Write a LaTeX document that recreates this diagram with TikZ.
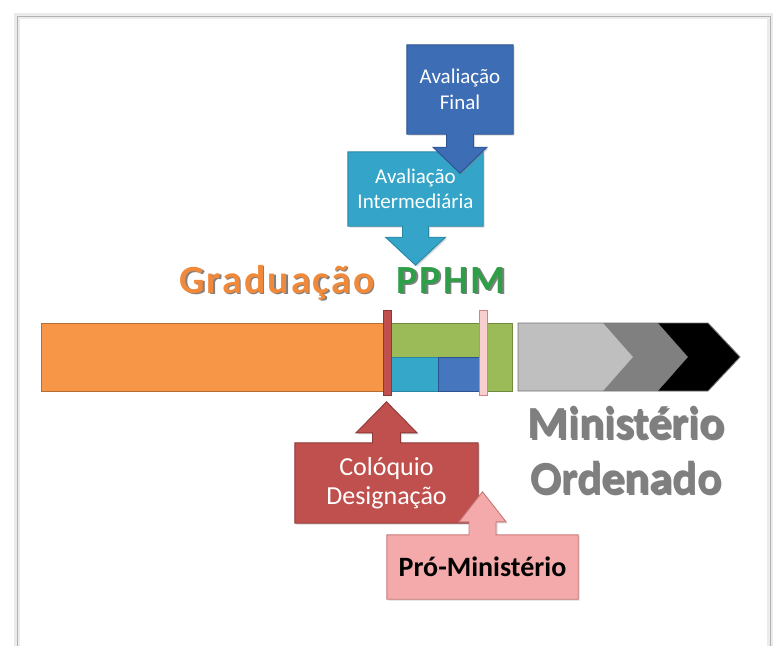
\documentclass[tikz,border=0pt]{standalone}
\usepackage{fontspec}
\newfontfamily\calibri{Carlito}
\newfontfamily\calibriwide[LetterSpace=5]{Carlito}
\usetikzlibrary{calc,shadows,backgrounds}

\definecolor{finalblue}{HTML}{3D6DB5}
\definecolor{finalline}{HTML}{2C5290}
\definecolor{midteal}{HTML}{34A5C9}
\definecolor{midline}{HTML}{2A86A5}
\definecolor{gradorange}{HTML}{F79646}
\definecolor{gradline}{HTML}{B66D31}
\definecolor{pphmgreen}{HTML}{9BBB59}
\definecolor{pphmline}{HTML}{71893F}
\definecolor{cellteal}{HTML}{35A7C8}
\definecolor{cellblue}{HTML}{4677BE}
\definecolor{colred}{HTML}{C0504D}
\definecolor{colline}{HTML}{8C3836}
\definecolor{propink}{HTML}{F4AAAA}
\definecolor{proline}{HTML}{C97777}
\definecolor{barpink}{HTML}{F7CFCF}
\definecolor{titleorange}{HTML}{F0893A}
\definecolor{titlegreen}{HTML}{2E9E48}
\definecolor{ministgray}{HTML}{7F7F7F}

% text with a soft drop shadow
\newcommand\wordart[3][black!50]{\rlap{\kern1.6pt\raisebox{-1.6pt}{\color{#1}#3}}{\color{#2}#3}}

% box with an arrow below (#1 node, #2 style, #3 shaft half, #4 head half, #5 neck, #6 head)
\newcommand\downcall[6]{%
  \path[#2] (#1.south west) -- (#1.north west) -- (#1.north east) -- (#1.south east)
    -- ($(#1.south)+(#3,0)$) -- ($(#1.south)+(#3,#5)$) -- ($(#1.south)+(#4,#5)$)
    -- ($(#1.south)+(0,#5+#6)$) -- ($(#1.south)+(-#4,#5)$) -- ($(#1.south)+(-#3,#5)$)
    -- ($(#1.south)+(-#3,0)$) -- cycle;}
% box with an arrow above
\newcommand\upcall[6]{%
  \path[#2] (#1.north west) -- (#1.south west) -- (#1.south east) -- (#1.north east)
    -- ($(#1.north)+(#3,0)$) -- ($(#1.north)+(#3,-#5)$) -- ($(#1.north)+(#4,-#5)$)
    -- ($(#1.north)+(0,-#5-#6)$) -- ($(#1.north)+(-#4,-#5)$) -- ($(#1.north)+(-#3,-#5)$)
    -- ($(#1.north)+(-#3,0)$) -- cycle;}

\tikzset{
  calltext/.style={inner sep=0pt, align=center, text=white, font=\calibri\fontsize{21}{25.5}\selectfont},
  callshape/.style={line width=0.9pt, line join=miter,
    drop shadow={shadow xshift=1.5pt, shadow yshift=-1.5pt, opacity=.3}},
  barpart/.style={line width=0.9pt},
  bigtitle/.style={inner sep=0pt, align=center, font=\calibri\bfseries\fontsize{46}{55}\selectfont},
  phasetitle/.style={inner sep=0pt, anchor=base, font=\calibriwide\bfseries\fontsize{40}{48}\selectfont}
}

\begin{document}
\begin{tikzpicture}[x=1pt,y=-1pt]
  \useasboundingbox (0,0) rectangle (775,645);

  % Frame
  \draw[black!8, line width=6pt] (17,650) -- (17,16) -- (770,16) -- (770,650);
  \draw[black!30, line width=0.8pt] (17,650) -- (17,16) -- (770,16) -- (770,650);

  % Timeline bar
  \draw[barpart, fill=gradorange, draw=gradline] (41,323) rectangle (385,391);
  \draw[barpart, fill=pphmgreen, draw=pphmline] (391,323) rectangle (512,391);
  \draw[barpart, fill=cellteal, draw=midline] (391,357) rectangle (438,391);
  \draw[barpart, fill=cellblue, draw=finalline] (438,357) rectangle (479,391);
  \draw[barpart, fill=colred, draw=colline] (383,310) rectangle (391,395);
  \draw[barpart, fill=barpink, draw=colred!70] (479,310) rectangle (487,395);

  % Chevron arrow
  \fill[black!25] (518,323) -- (603,323) -- (633,357) -- (603,391) -- (518,391) -- cycle;
  \fill[black!50] (603,323) -- (658,323) -- (688,357) -- (658,391) -- (603,391) -- (633,357) -- cycle;
  \fill[black] (658,323) -- (708,323) -- (740,357) -- (708,391) -- (658,391) -- (688,357) -- cycle;
  \draw[black!55, line width=0.9pt, line join=miter] (518,323) -- (708,323) -- (740,357) -- (708,391) -- (518,391) -- cycle;

  % Titles
  \node[phasetitle] (grad) at (277,293) {\wordart{titleorange}{Graduação}};
  \node[phasetitle] (pphm) at (451,293) {\wordart{titlegreen}{PPHM}};
  \node[bigtitle] (minist) at (626,451) {\wordart{ministgray}{Ministério}\\\wordart{ministgray}{Ordenado}};

  % Callout texts
  \node[calltext, minimum width=135, minimum height=74] (inter) at (415.5,189)
    {Avaliação\\Intermediária};
  \node[calltext, minimum width=106, minimum height=89] (final) at (460,89.5)
    {Avaliação\\Final};
  \node[calltext, font=\calibri\fontsize{26}{29}\selectfont, minimum width=183, minimum height=80] (coloq) at (386.5,483)
    {Colóquio\\Designação};
  \node[calltext, text=black, font=\calibri\bfseries\fontsize{28}{32}\selectfont, minimum width=191, minimum height=64] (pro) at (482.5,567)
    {Pró-Ministério};

  % Callout shapes
  \begin{pgfonlayer}{background}
    \downcall{inter}{callshape, fill=midteal, draw=midline}{13}{30}{11}{28}
    \downcall{final}{callshape, fill=finalblue, draw=finalline}{13.5}{27}{13}{26}
    \upcall{coloq}{callshape, fill=colred, draw=colline}{14}{30.5}{10}{31}
    \upcall{pro}{callshape, fill=propink, draw=proline}{13.5}{23.5}{13}{30}
  \end{pgfonlayer}
\end{tikzpicture}
\end{document}
